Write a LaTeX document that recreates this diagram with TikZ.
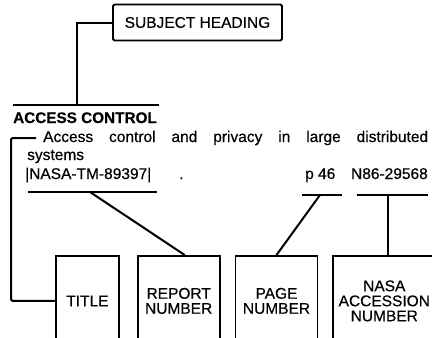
\documentclass[tikz,border=0pt]{standalone}
\usepackage{fontspec}
\setmainfont{Liberation Sans}[FakeBold=0.4]
\usetikzlibrary{positioning}

\tikzset{
  hd/.style={draw, line width=1.8pt, rounded corners=1.5pt, inner sep=0pt,
    minimum width=169pt, minimum height=36pt},
  fld/.style={draw, line width=1.8pt, inner sep=0pt, align=center,
    minimum height=90pt, anchor=north west},
  txt/.style={inner sep=0pt, anchor=base west},
  wire/.style={line width=2pt},
}

\begin{document}
\begin{tikzpicture}[x=1pt, y=-1pt, font=\fontsize{15.5}{15}\selectfont]
\useasboundingbox (0,0) rectangle (432,338);
\clip (0,0) rectangle (432,338);

% heading and entry
\node[hd] (sh) at (197.5,22.5) {SUBJECT HEADING};
\node[txt, font=\fontsize{15.3}{15}\selectfont\bfseries] (ac) at (13,123) {ACCESS CONTROL};
\node[txt] (ttl) at (43,142) {\makebox[385pt][s]{Access control and privacy in large distributed}};
\node[txt] (sys) at (27,160) {systems};
\node[txt] (rn) at (25,179) {|NASA-TM-89397|};
\node[txt] (dot) at (179,179) {.};
\node[txt] (pg) at (305,179) {p 46};
\node[txt, anchor=base east] (an) at (428,179) {N86-29568};

% field boxes
\node[fld, minimum width=63pt] (tb) at (55,255) {TITLE};
\node[fld, minimum width=82pt, right=17pt of tb] (rb) {REPORT\\NUMBER};
\node[fld, minimum width=82pt, right=14pt of rb] (pb) {PAGE\\NUMBER};
\node[fld, minimum width=102pt, right=14pt of pb] (nb) {NASA\\ACCESSION\\NUMBER};

\coordinate (hr) at (77,105);
\coordinate (tk) at (36,138);
\coordinate (bk) at (11,0);
\coordinate (rnu) at (90,192);
\coordinate (pgu) at (320,195);
\coordinate (anu) at (388,195);

\draw[wire] (13,105) -- (159,105);
\draw[wire] (28,192) -- (157,192);
\draw[wire] (302,195) -- (342,195);
\draw[wire] (357,195) -- (428,195);

\draw[wire] (sh.west) -| (hr);
\draw[wire, rounded corners=2pt] (tk) -| (bk |- tb.west) -- (tb.west);
\draw[wire] (rnu) -- ([xshift=6pt]rb.north);
\draw[wire] (pgu) -- (pb.north);
\draw[wire] (anu) -- (anu |- nb.north);
\end{tikzpicture}
\end{document}
